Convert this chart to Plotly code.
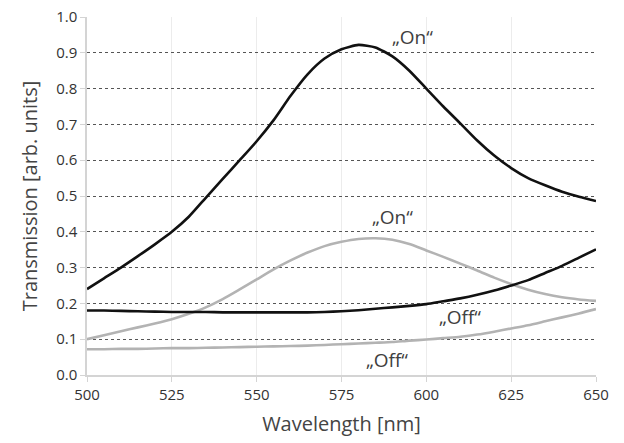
import plotly.graph_objects as go

wavelength = [500, 505, 510, 515, 520, 525, 530, 535, 540, 545, 550, 555, 560, 565, 570, 575,
              580, 585, 590, 595, 600, 605, 610, 615, 620, 625, 630, 635, 640, 645, 650]

on_black = [0.240, 0.270, 0.300, 0.332, 0.365, 0.400, 0.442, 0.495, 0.548, 0.600, 0.653, 0.712,
            0.780, 0.840, 0.884, 0.910, 0.922, 0.915, 0.890, 0.850, 0.800, 0.750, 0.703, 0.655,
            0.613, 0.578, 0.550, 0.530, 0.512, 0.498, 0.486]

off_black = [0.180, 0.180, 0.179, 0.178, 0.177, 0.176, 0.176, 0.176, 0.175, 0.175, 0.175, 0.175,
             0.175, 0.175, 0.176, 0.178, 0.181, 0.185, 0.189, 0.193, 0.198, 0.206, 0.214, 0.224,
             0.236, 0.250, 0.265, 0.285, 0.305, 0.328, 0.351]

on_gray = [0.100, 0.111, 0.122, 0.133, 0.144, 0.156, 0.171, 0.189, 0.212, 0.239, 0.267, 0.295,
           0.320, 0.342, 0.360, 0.372, 0.380, 0.382, 0.378, 0.366, 0.348, 0.330, 0.311, 0.292,
           0.272, 0.254, 0.238, 0.226, 0.217, 0.211, 0.207]

off_gray = [0.072, 0.072, 0.073, 0.073, 0.074, 0.075, 0.075, 0.076, 0.077, 0.078, 0.079, 0.080,
            0.081, 0.082, 0.084, 0.086, 0.088, 0.090, 0.092, 0.096, 0.099, 0.103, 0.107, 0.113,
            0.121, 0.130, 0.139, 0.150, 0.161, 0.172, 0.184]

label_text = ["\u201eOn\u201c", "\u201eOn\u201c", "\u201eOff\u201c", "\u201eOff\u201c"]
label_x = [596, 590, 610, 588.5]
label_y = [0.945, 0.44, 0.162, 0.042]

x_ticks = [500, 525, 550, 575, 600, 625, 650]
y_ticks = [0.0, 0.1, 0.2, 0.3, 0.4, 0.5, 0.6, 0.7, 0.8, 0.9, 1.0]

FONT = "Open Sans"
BLACK = "#111111"
GRAY = "#b3b3b3"

fig = go.Figure()
for ys, col in [(on_gray, GRAY), (off_gray, GRAY), (off_black, BLACK), (on_black, BLACK)]:
    fig.add_trace(go.Scatter(x=wavelength, y=ys, mode="lines",
                             line=dict(color=col, width=2.6, shape="spline", smoothing=0.6),
                             showlegend=False, hoverinfo="skip"))

for t, x, y in zip(label_text, label_x, label_y):
    fig.add_annotation(x=x, y=y, text=t, showarrow=False, xref="x", yref="y",
                       font=dict(family=FONT, size=19, color="#404040"))

fig.update_layout(
    width=624, height=443,
    margin=dict(l=87, r=28, t=17, b=68),
    paper_bgcolor="white", plot_bgcolor="white",
    font=dict(family=FONT, color="#333333"),
    xaxis=dict(range=[500, 650], tickvals=x_ticks, ticktext=[str(v) for v in x_ticks],
               automargin=False,
               showgrid=True, gridcolor="#ececec", gridwidth=1,
               showline=True, linecolor="#d4d4d4", linewidth=1.5,
               ticks="outside", ticklen=5, tickcolor="#d4d4d4",
               tickfont=dict(family=FONT, size=15, color="#333333"),
               title=dict(text="Wavelength [nm]", font=dict(family=FONT, size=20, color="#444444"),
                          standoff=14),
               zeroline=False),
    yaxis=dict(range=[0, 1.0], tickvals=y_ticks, ticktext=[f"{v:.1f}" for v in y_ticks],
               automargin=False,
               showgrid=True, gridcolor="#555555", gridwidth=1.3, griddash="dot",
               showline=True, linecolor="#d4d4d4", linewidth=1.5,
               ticks="outside", ticklen=5, tickcolor="#d4d4d4",
               tickfont=dict(family=FONT, size=15, color="#333333"),
               title=dict(text="Transmission [arb. units]", font=dict(family=FONT, size=20, color="#444444"),
                          standoff=13),
               zeroline=False),
)

fig.write_html("out.html", config={"displayModeBar": False},
               post_script="document.body.style.margin='0';")
